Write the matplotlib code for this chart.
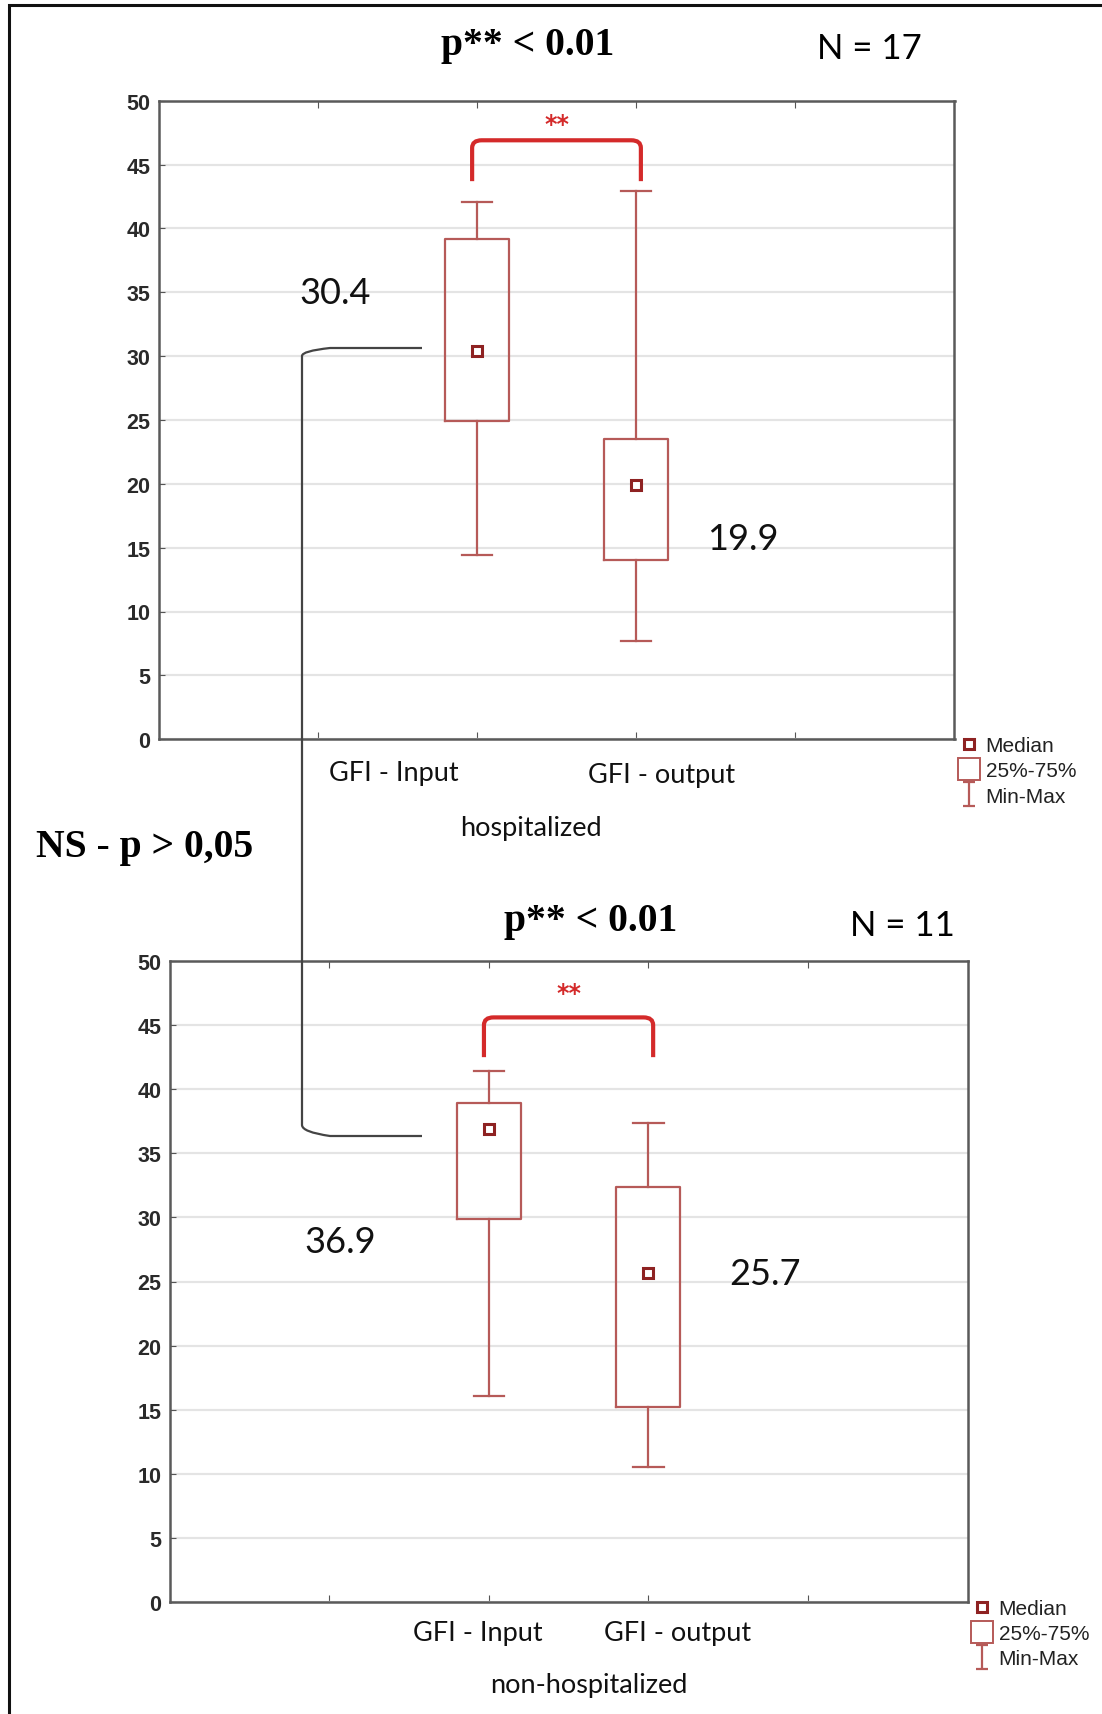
import numpy as np
import matplotlib.pyplot as plt
from matplotlib.lines import Line2D
from matplotlib.path import Path
from matplotlib.patches import PathPatch

# GFI scores, min / Q1 / median / Q3 / max
groups = ["GFI - Input", "GFI - output"]
hosp_min = [14.4, 7.7]
hosp_q1 = [24.9, 14.0]
hosp_med = [30.4, 19.9]
hosp_q3 = [39.2, 23.5]
hosp_max = [42.1, 42.9]

nonhosp_min = [16.1, 10.5]
nonhosp_q1 = [29.9, 15.2]
nonhosp_med = [36.9, 25.7]
nonhosp_q3 = [38.9, 32.4]
nonhosp_max = [41.4, 37.4]

positions = [2, 3]

BOX_C = "#b65a58"
MED_C = "#8e2222"
SIG_C = "#d42a2a"
W, H = 1102, 1715

fig = plt.figure(figsize=(W / 100, H / 100), dpi=100)
fig.patch.set_facecolor("white")

SANS = ["Lato", "DejaVu Sans"]
SERIF = ["Liberation Serif", "DejaVu Serif"]


def px_axes(left, top, right, bottom):
    return fig.add_axes([left / W, 1 - bottom / H, (right - left) / W, (bottom - top) / H])


# I-beam marker for the Min-Max legend entry
ibeam = Path([(-0.5, 1), (0.5, 1), (0, 1), (0, -1), (-0.5, -1), (0.5, -1)],
             [Path.MOVETO, Path.LINETO, Path.MOVETO, Path.LINETO, Path.MOVETO, Path.LINETO])


def panel(ax, mins, q1s, meds, q3s, maxs, bracket_y, leg_y, star_y):
    stats = []
    for i in range(len(groups)):
        stats.append(dict(whislo=mins[i], q1=q1s[i], med=meds[i], q3=q3s[i],
                          whishi=maxs[i], fliers=[]))
    ax.bxp(stats, positions=positions, widths=0.4, showfliers=False, capwidths=0.19,
           boxprops=dict(color=BOX_C, lw=1.6),
           whiskerprops=dict(color=BOX_C, lw=1.6),
           capprops=dict(color=BOX_C, lw=1.6),
           medianprops=dict(lw=0), manage_ticks=False)
    ax.plot(positions, meds, ls="none", marker="s", ms=6.5, mfc="white", mec=MED_C, mew=2.2, zorder=5)

    # significance bracket between the two boxes
    x0, x1 = positions[0] - 0.03, positions[1] + 0.03
    verts = [(x0, leg_y), (x0, bracket_y - 0.6), (x0, bracket_y), (x0 + 0.06, bracket_y),
             (x1 - 0.06, bracket_y), (x1, bracket_y), (x1, bracket_y - 0.6), (x1, leg_y)]
    codes = [Path.MOVETO, Path.LINETO, Path.CURVE3, Path.CURVE3,
             Path.LINETO, Path.CURVE3, Path.CURVE3, Path.LINETO]
    ax.add_patch(PathPatch(Path(verts, codes), fc="none", ec=SIG_C, lw=3))
    ax.text(np.mean(positions), star_y - 0.5, "**", color=SIG_C, ha="center", va="center",
            fontsize=17, fontweight="bold", family="DejaVu Sans")

    ax.set_xlim(0, 5)
    ax.set_ylim(0, 50)
    ax.set_yticks(np.arange(0, 51, 5))
    ax.set_xticks([1, 2, 3, 4])
    ax.set_xticklabels([])
    ax.yaxis.grid(True, color="#e4e4e4", lw=1.6)
    ax.set_axisbelow(True)
    ax.tick_params(axis="x", direction="in", top=True, bottom=True, length=5, color="#555")
    ax.tick_params(axis="y", direction="in", length=4, color="#555", labelsize=15.5,
                   labelcolor="#2a2a2a", pad=6)
    for lab in ax.get_yticklabels():
        lab.set_family(["Liberation Sans", "DejaVu Sans"])
        lab.set_fontweight("bold")
    for s in ax.spines.values():
        s.set_color("#5a5a5a")
        s.set_linewidth(1.8)

    handles = [
        Line2D([], [], ls="none", marker="s", ms=7, mfc="white", mec=MED_C, mew=2.2),
        Line2D([], [], ls="none", marker="s", ms=16, mfc="white", mec=BOX_C, mew=1.4),
        Line2D([], [], ls="none", marker=ibeam, ms=17, mfc="none", mec=BOX_C, mew=1.6),
    ]
    leg = ax.legend(handles, ["Median", "25%-75%", "Min-Max"], loc="upper left",
                    bbox_to_anchor=(1.005, 0.005), frameon=False, handlelength=1.0,
                    handletextpad=0.3, labelspacing=0.3, borderaxespad=0.0,
                    borderpad=0.0, prop=dict(family="Liberation Sans", size=15))
    for t in leg.get_texts():
        t.set_color("#222")


LBL = dict(ha="center", va="center", fontsize=19.5, family=SANS, color="#111")
NUM = dict(ha="center", va="center", fontsize=26, family=SANS, color="#111")

# top panel: hospitalized
ax1 = px_axes(158.5, 101.7, 954.5, 740.2)
panel(ax1, hosp_min, hosp_q1, hosp_med, hosp_q3, hosp_max, 46.9, 43.7, 48.7)
ax1.text(1.48, -2.6, groups[0], **LBL)
ax1.text(3.16, -2.8, groups[1], **LBL)
ax1.text(2.34, -6.9, "hospitalized", **LBL)
ax1.text(1.11, 35.0, f"{hosp_med[0]}", **NUM)
ax1.text(3.67, 15.7, f"{hosp_med[1]}", **NUM)

# bottom panel: non-hospitalized
ax2 = px_axes(169.5, 962, 967.6, 1603)
panel(ax2, nonhosp_min, nonhosp_q1, nonhosp_med, nonhosp_q3, nonhosp_max, 45.6, 42.5, 48.0)
ax2.text(1.93, -2.4, groups[0], **LBL)
ax2.text(3.18, -2.4, groups[1], **LBL)
ax2.text(2.63, -6.4, "non-hospitalized", **LBL)
ax2.text(1.07, 28.1, f"{nonhosp_med[0]}", **NUM)
ax2.text(3.73, 25.6, f"{nonhosp_med[1]}", **NUM)

# overlay in pixel space for headings, connector and frame
ov = fig.add_axes([0, 0, 1, 1], facecolor="none")
ov.set_xlim(0, W)
ov.set_ylim(H, 0)
ov.axis("off")

ov.text(528, 46, "p** < 0.01", ha="center", va="center", fontsize=28.5, fontweight="bold", family=SERIF)
ov.text(869, 49, "N = 17", ha="center", va="center", fontsize=25, family=SANS)
ov.text(591, 922, "p** < 0.01", ha="center", va="center", fontsize=28.5, fontweight="bold", family=SERIF)
ov.text(902, 926, "N = 11", ha="center", va="center", fontsize=25, family=SANS)
ov.text(145, 848, "NS - p > 0,05", ha="center", va="center", fontsize=28.5, fontweight="bold", family=SERIF)

conn = Path([(422, 349), (330, 349), (302, 352), (302, 357), (302, 1126),
             (302, 1133), (330, 1137), (422, 1137)],
            [Path.MOVETO, Path.LINETO, Path.CURVE3, Path.CURVE3, Path.LINETO,
             Path.CURVE3, Path.CURVE3, Path.LINETO])
ov.add_patch(PathPatch(conn, fc="none", ec="#444", lw=1.6))

ov.plot([9, 9, W], [H, 6, 6], color="#111", lw=2.2, solid_joinstyle="miter")

fig.savefig("out.png", dpi=100, facecolor="white")
